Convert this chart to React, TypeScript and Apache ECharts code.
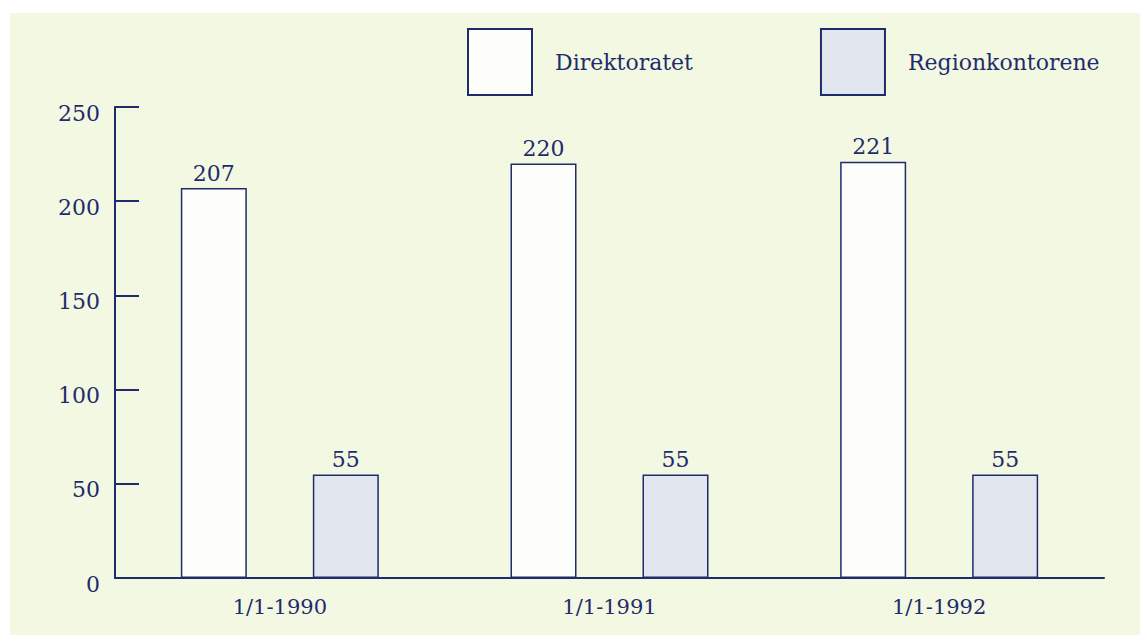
import React, { useEffect, useRef } from "react";
import * as echarts from "echarts";

const categories = ["1/1-1990", "1/1-1991", "1/1-1992"];
const direktoratet = [207, 220, 221];
const regionkontorene = [55, 55, 55];
const seriesNames = ["Direktoratet", "Regionkontorene"];

const INK = "#1f2c6c";
const FONT = "DejaVu Serif";

export default function App() {
  const ref = useRef<HTMLDivElement>(null);
  useEffect(() => {
    if (!ref.current) return;
    const chart = echarts.init(ref.current, null, { renderer: "svg" });
    chart.setOption({
      animation: false,
      backgroundColor: "#ffffff",
      graphic: [
        {
          type: "rect",
          z: -10,
          shape: { x: 10, y: 13, width: 1130, height: 622 },
          style: { fill: "#f3f8e3" },
        },
      ],
      legend: {
        left: 467,
        top: 28,
        padding: 0,
        itemWidth: 64,
        itemHeight: 66,
        itemGap: 127,
        icon: "rect",
        textStyle: {
          fontFamily: FONT,
          fontSize: 22,
          color: INK,
          padding: [0, 0, 0, 18],
        },
        data: seriesNames,
      },
      grid: { left: 115, right: 36, top: 107, bottom: 57 },
      xAxis: {
        type: "category",
        data: categories,
        axisLine: { lineStyle: { color: INK, width: 2 } },
        axisTick: { show: false },
        axisLabel: {
          fontFamily: FONT,
          fontSize: 21,
          color: INK,
          margin: 18,
        },
      },
      yAxis: {
        type: "value",
        min: 0,
        max: 250,
        interval: 50,
        splitLine: { show: false },
        axisLine: { show: true, lineStyle: { color: INK, width: 2 } },
        axisTick: { show: true, inside: true, length: 24, lineStyle: { color: INK, width: 2 } },
        axisLabel: {
          fontFamily: FONT,
          fontSize: 22,
          color: INK,
          margin: 15,
          formatter: "{a|{value}}",
          rich: {
            a: {
              fontFamily: FONT,
              fontSize: 22,
              color: INK,
              padding: [12, 0, 0, 0],
            },
          },
        },
      },
      series: [
        {
          name: seriesNames[0],
          type: "bar",
          data: direktoratet,
          barWidth: 66,
          barGap: "100%",
          itemStyle: { color: "#fdfdfb", borderColor: INK, borderWidth: 1.5 },
          label: {
            show: true,
            position: "top",
            distance: 4,
            fontFamily: FONT,
            fontSize: 22,
            color: INK,
          },
        },
        {
          name: seriesNames[1],
          type: "bar",
          data: regionkontorene,
          barWidth: 66,
          barGap: "100%",
          itemStyle: { color: "#e2e7ef", borderColor: INK, borderWidth: 1.5 },
          label: {
            show: true,
            position: "top",
            distance: 4,
            fontFamily: FONT,
            fontSize: 22,
            color: INK,
          },
        },
      ],
    });
    return () => chart.dispose();
  }, []);
  return (
    <div
      ref={ref}
      style={{ position: "absolute", left: 0, top: 0, width: 1140, height: 635 }}
    />
  );
}
